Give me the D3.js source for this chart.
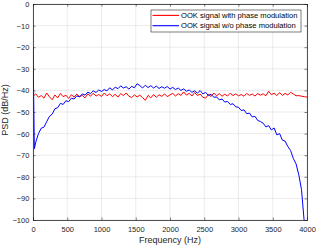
<!DOCTYPE html>
<html><head><meta charset="utf-8">
<script src="https://cdn.jsdelivr.net/npm/d3@7"></script>
<style>body{margin:0;background:#fff}svg{display:block}text{font-family:"Liberation Sans",Arial,sans-serif}</style>
</head><body><svg id="c" width="316" height="247"></svg>
<script>
const freq = [0,20,40,80,120,160,200,240,280,320,360,400,440,480,520,560,600,640,680,720,760,800,840,880,920,960,1000,1040,1080,1120,1160,1200,1240,1280,1320,1360,1400,1440,1480,1520,1560,1600,1640,1680,1720,1760,1800,1840,1880,1920,1960,2000,2040,2080,2120,2160,2200,2240,2280,2320,2360,2400,2440,2480,2520,2560,2600,2640,2680,2720,2760,2800,2840,2880,2920,2960,3000,3040,3080,3120,3160,3200,3240,3280,3320,3360,3400,3440,3480,3520,3560,3600,3640,3680,3720,3760,3800,3840,3880,3920,3960,4000];
const withPM = [-42,-42.2,-41.6,-43.2,-42.4,-43.6,-41.2,-43.0,-44.3,-42.1,-43.5,-41.4,-42.9,-42.2,-43.7,-42.0,-43.1,-41.7,-42.9,-42.3,-43.5,-41.6,-42.7,-41.3,-42.6,-41.9,-42.8,-41.2,-42.5,-41.6,-42.9,-41.8,-43.1,-41.5,-42.4,-41.2,-42.7,-43.3,-42.1,-43.0,-42.2,-43.4,-44.6,-42.3,-43.5,-41.9,-43.2,-42.0,-42.8,-41.6,-42.9,-42.1,-41.4,-42.6,-41.5,-42.3,-40.7,-42.2,-41.3,-42.6,-41.0,-42.4,-41.7,-43.2,-43.6,-41.9,-42.8,-41.2,-42.5,-41.5,-42.7,-41.8,-42.6,-41.3,-42.4,-41.6,-42.5,-41.9,-42.7,-41.4,-42.3,-41.7,-42.6,-41.5,-42.2,-41.6,-42.5,-40.4,-42.0,-41.3,-42.4,-41.0,-42.3,-41.4,-42.1,-40.9,-41.6,-42.5,-42.4,-42.7,-42.9,-43.1];
const woPM = [-20,-67,-64,-60,-57.5,-57,-54.5,-52,-51,-48.5,-48,-46,-46.5,-44.8,-45.2,-43.6,-44,-42.5,-43,-41.6,-42.2,-40.8,-41.5,-40.2,-41,-39.8,-40.5,-39.6,-40.2,-38.8,-39.8,-38.5,-39.2,-37.9,-38.9,-38.3,-39.4,-38.1,-38.8,-36.9,-37.8,-38.9,-37.6,-38.7,-37.8,-38.9,-38.0,-39.1,-38.3,-39.0,-38.2,-39.4,-38.6,-39.6,-38.9,-40.0,-39.3,-40.4,-39.8,-40.9,-40.2,-41.3,-40.1,-41.6,-40.9,-42.3,-41.8,-43.2,-43.0,-44.4,-44.0,-45.4,-45.1,-46.5,-46.2,-47.6,-47.8,-49.3,-49.0,-50.8,-50.5,-52.3,-52.0,-53.9,-54.4,-55.2,-56.9,-56.3,-58.3,-57.4,-60.6,-60.0,-63.0,-63.5,-66.0,-67.8,-71.5,-74.0,-79.0,-86.0,-101,-118];
const xTicks = [0,500,1000,1500,2000,2500,3000,3500,4000];
const yTicks = [0,-10,-20,-30,-40,-50,-60,-70,-80,-90,-100];
const seriesNames = ["OOK signal with phase modulation","OOK signal w/o phase modulation"];
const seriesColors = ["#ff0000","#0000ff"];

const svg = d3.select("#c");
const m = {l:33, t:4, r:9, b:27};
const W = 316, H = 247;
const x = d3.scaleLinear().domain([0,4000]).range([m.l, W-m.r]);
const y = d3.scaleLinear().domain([-100,0]).range([H-m.b, m.t]);
const ax = "#262626";

svg.append("clipPath").attr("id","clip").append("rect")
  .attr("x",m.l).attr("y",m.t).attr("width",W-m.r-m.l).attr("height",H-m.b-m.t);

// grid
const g = svg.append("g");
g.selectAll(".gx").data(xTicks).join("line").attr("class","gx")
  .attr("x1",d=>x(d)).attr("x2",d=>x(d)).attr("y1",m.t).attr("y2",H-m.b)
  .attr("stroke","#e3e3e3").attr("stroke-width",0.7);
g.selectAll(".gy").data(yTicks).join("line").attr("class","gy")
  .attr("y1",d=>y(d)).attr("y2",d=>y(d)).attr("x1",m.l).attr("x2",W-m.r)
  .attr("stroke","#e3e3e3").attr("stroke-width",0.7);

// lines
const series = [withPM, woPM];
const lineGen = d3.line().defined((d,i)=>d!=null && freq[i]!=null).x((d,i)=>x(freq[i])).y(d=>y(d));
svg.append("g").attr("clip-path","url(#clip)").selectAll("path").data(series).join("path")
  .attr("d",d=>lineGen(d)).attr("fill","none")
  .style("stroke",(d,i)=>seriesColors[i]).attr("stroke-width",1);

// axes
const fs = "7.5px";
const xb = svg.append("g").attr("transform",`translate(0,${H-m.b})`)
  .call(d3.axisBottom(x).tickValues(xTicks).tickSize(-2.5).tickPadding(6.5).tickFormat(d3.format("d")));
const xt = svg.append("g").attr("transform",`translate(0,${m.t})`)
  .call(d3.axisTop(x).tickValues(xTicks).tickSize(-2.5).tickFormat(""));
const yl = svg.append("g").attr("transform",`translate(${m.l},0)`)
  .call(d3.axisLeft(y).tickValues(yTicks).tickSize(-2.5).tickPadding(3.7).tickFormat(d3.format("d")));
const yr = svg.append("g").attr("transform",`translate(${W-m.r},0)`)
  .call(d3.axisRight(y).tickValues(yTicks).tickSize(-2.5).tickFormat(""));
[xb,xt,yl,yr].forEach(a=>{
  a.select(".domain").attr("stroke",ax).attr("stroke-width",0.8);
  a.selectAll(".tick line").attr("stroke",ax).attr("stroke-width",0.6);
  a.selectAll("text").attr("fill",ax).style("font-size",fs).style("font-family",'"Liberation Sans",Arial,sans-serif');
});

// axis titles
svg.append("text").attr("x",(m.l+W-m.r)/2).attr("y",243).attr("text-anchor","middle")
  .attr("fill",ax).style("font-size","9px").text("Frequency (Hz)");
svg.append("text").attr("transform",`translate(8,110) rotate(-90)`)
  .attr("text-anchor","middle").attr("fill",ax).style("font-size","9px").text("PSD (dB/Hz)");

// legend
const lg = svg.append("g");
lg.append("rect").attr("x",151).attr("y",10).attr("width",150).attr("height",22)
  .attr("fill","#fff").attr("stroke",ax).attr("stroke-width",0.6);
seriesNames.forEach((n,i)=>{
  const yy = 15.4 + i*10.3;
  lg.append("path").attr("d",`M152.5,${yy}H179`).attr("fill","none")
    .style("stroke",seriesColors[i]).style("stroke-width","1.1px");
  lg.append("text").attr("x",181).attr("y",yy+2.7).attr("fill","#000")
    .style("font-size","7.6px").text(n);
});
</script></body></html>
